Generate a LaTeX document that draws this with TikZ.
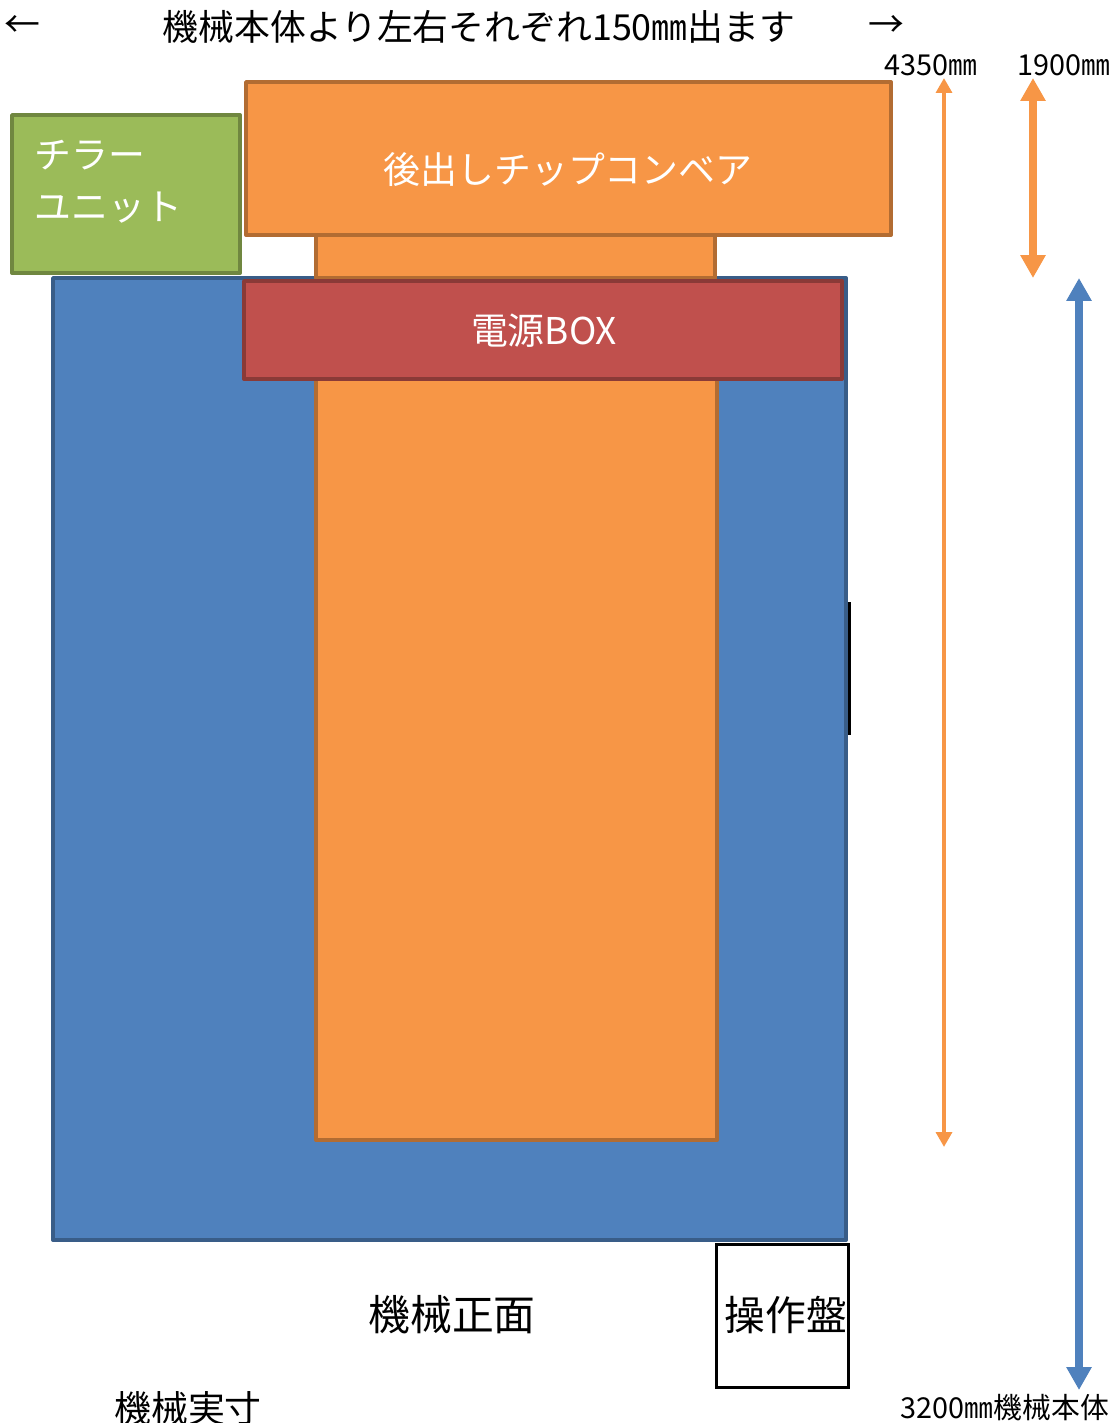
\documentclass[tikz,border=0pt]{standalone}
\usepackage{fontspec}
\setmainfont{Noto Sans CJK JP}
\usetikzlibrary{arrows.meta}
\definecolor{chiller}{HTML}{9BBB59}
\definecolor{conveyor}{HTML}{F79646}
\definecolor{body}{HTML}{4F81BD}
\definecolor{power}{HTML}{C0504D}
\tikzset{
  part/.style = {fill=#1, draw=#1!72!black, line width=2.2pt, line join=round},
  panel/.style = {fill=white, draw=black, line width=1.7pt},
  txt/.style = {color=#1, inner sep=0pt},
  dimBig/.style = {color=#1, line width=4.5pt, {Triangle[width=13.6pt,length=13pt]}-{Triangle[width=13.6pt,length=13pt]}},
  dimSmall/.style = {color=#1, line width=2.8pt, {Triangle[width=9pt,length=8.5pt]}-{Triangle[width=9pt,length=8.5pt]}}
}
\newcommand{\pxfont}[1]{\fontsize{#1}{#1}\selectfont}

\begin{document}
\begin{tikzpicture}[x=0.02cm, y=-0.02cm]

    \useasboundingbox (0,0) rectangle (1118,1423);

    % Coordinates
    \coordinate (D1top) at (944,78);
    \coordinate (D1bot) at (944,1147);
    \coordinate (D2top) at (1033,78);
    \coordinate (D2bot) at (1033,278);
    \coordinate (D3top) at (1079,278);
    \coordinate (D3bot) at (1079,1390);

    % Body
    \draw[part={body}] (53,278) rectangle (846,1240);
    \draw[part={conveyor}] (316,235) rectangle (715,278);
    \draw[part={conveyor}] (246,82) rectangle (891,235);
    \draw[part={conveyor}] (316,378) rectangle (717,1140);
    \draw[part={power}] (244,281) rectangle (842,379);
    \draw[part={chiller}] (12,115) rectangle (240,273);
    \draw[black, line width=1.7pt] (849,602) -- (849,735);
    \draw[panel] (716,1244) rectangle (848,1387);

    % Parts
    \node[txt={white}, font=\pxfont{21}] (conv) at (568,170) {後出しチップコンベア};
    \node[txt={white}, font=\pxfont{21}] (box) at (544,331) {電源BOX};
    \node[txt={white}, font=\pxfont{21}, anchor=west] (chill1) at (34,155) {チラー};
    \node[txt={white}, font=\pxfont{21}, anchor=west] (chill2) at (34,208) {ユニット};
    \node[txt={black}, font=\pxfont{23.2}] (ctrl) at (786,1315) {操作盤};

    % Dimensions
    \draw[dimSmall={conveyor}] (D1top) -- (D1bot);
    \draw[dimBig={conveyor}] (D2top) -- (D2bot);
    \draw[dimBig={body}] (D3top) -- (D3bot);

    % Labels
    \node[txt={black}, font=\pxfont{20.4}] (title) at (479,27) {機械本体より左右それぞれ150㎜出ます};
    \node[txt={black}, font=\pxfont{20.4}] (left) at (22,27) {←};
    \node[txt={black}, font=\pxfont{20.4}] (right) at (886,27) {→};
    \node[txt={black}, font=\pxfont{16.4}] (len1) at (931,65) {4350㎜};
    \node[txt={black}, font=\pxfont{16.4}] (len2) at (1064,65) {1900㎜};
    \node[txt={black}, font=\pxfont{16.4}] (len3) at (1005,1408) {3200㎜機械本体};
    \node[txt={black}, font=\pxfont{23.8}] (front) at (452,1315) {機械正面};
    \node[txt={black}, font=\pxfont{21}] (size) at (188,1408) {機械実寸};

\end{tikzpicture}
\end{document}
